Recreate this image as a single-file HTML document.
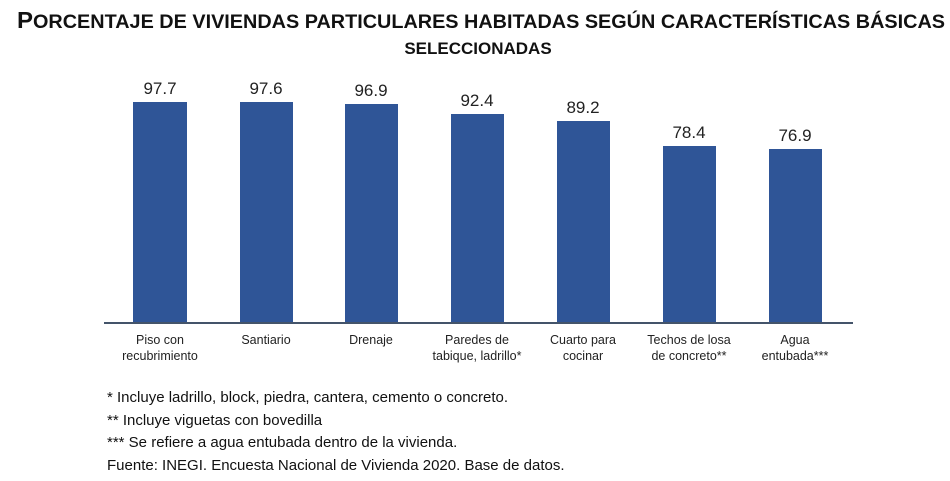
<!DOCTYPE html>
<html><head><meta charset="utf-8"><style>
body{margin:0;width:950px;height:476px;background:#fff;overflow:hidden;font-family:"Liberation Sans",sans-serif;}
</style></head><body>
<svg width="950" height="476" xmlns="http://www.w3.org/2000/svg" font-family="Liberation Sans, sans-serif">
<text x="17" y="28" font-size="19" font-weight="bold" fill="#111" textLength="928" lengthAdjust="spacingAndGlyphs"><tspan font-size="23">P</tspan>ORCENTAJE DE VIVIENDAS PARTICULARES HABITADAS SEGÚN CARACTERÍSTICAS BÁSICAS</text>
<text x="478" y="54" text-anchor="middle" font-size="17" font-weight="bold" fill="#111">SELECCIONADAS</text>
<g fill="#2f5597">
<rect x="133" y="102" width="54" height="221"/>
<rect x="240" y="102" width="53" height="221"/>
<rect x="345" y="104" width="53" height="219"/>
<rect x="451" y="114" width="53" height="209"/>
<rect x="557" y="121" width="53" height="202"/>
<rect x="663" y="146" width="53" height="177"/>
<rect x="769" y="149" width="53" height="174"/>
</g>
<line x1="104" y1="323" x2="853" y2="323" stroke="#44546a" stroke-width="2"/>
<g font-size="17" fill="#222" text-anchor="middle">
<text x="160" y="94">97.7</text><text x="266" y="94">97.6</text><text x="371" y="96">96.9</text>
<text x="477" y="106">92.4</text><text x="583" y="113">89.2</text><text x="689" y="138">78.4</text><text x="795" y="141">76.9</text>
</g>
<g font-size="12.5" fill="#222" text-anchor="middle">
<text x="160" y="344">Piso con</text><text x="160" y="360">recubrimiento</text>
<text x="266" y="344">Santiario</text>
<text x="371" y="344">Drenaje</text>
<text x="477" y="344">Paredes de</text><text x="477" y="360">tabique, ladrillo*</text>
<text x="583" y="344">Cuarto para</text><text x="583" y="360">cocinar</text>
<text x="689" y="344">Techos de losa</text><text x="689" y="360">de concreto**</text>
<text x="795" y="344">Agua</text><text x="795" y="360">entubada***</text>
</g>
<g font-size="15" fill="#111">
<text x="107" y="402">* Incluye ladrillo, block, piedra, cantera, cemento o concreto.</text>
<text x="107" y="425">** Incluye viguetas con bovedilla</text>
<text x="107" y="447">*** Se refiere a agua entubada dentro de la vivienda.</text>
<text x="107" y="470">Fuente: INEGI. Encuesta Nacional de Vivienda 2020. Base de datos.</text>
</g>
</svg>
</body></html>
